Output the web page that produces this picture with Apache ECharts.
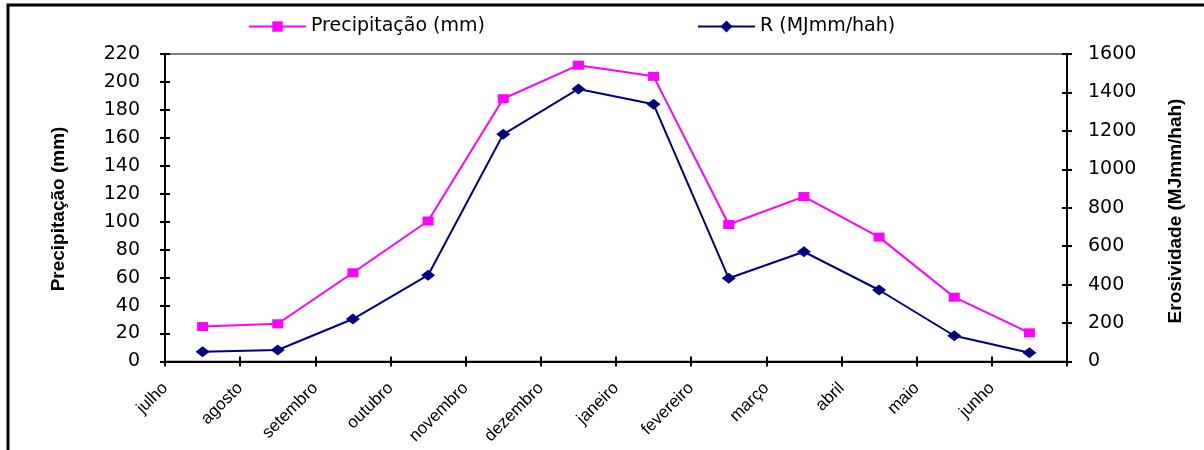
<!DOCTYPE html>
<html>
<head>
<meta charset="utf-8">
<script src="https://cdn.jsdelivr.net/npm/echarts@6/dist/echarts.min.js"></script>
<style>
  html, body { margin: 0; padding: 0; background: #fff; }
  #chart { width: 1204px; height: 450px; }
</style>
</head>
<body>
<div id="chart"></div>
<script>
// Monthly categories (hydrological year, July to June)
const months = ['julho', 'agosto', 'setembro', 'outubro', 'novembro', 'dezembro',
                'janeiro', 'fevereiro', 'março', 'abril', 'maio', 'junho'];
// Mean monthly rainfall (mm), left axis
const precipitacao = [25, 27, 63.5, 100.5, 188, 212, 204, 98, 118, 89, 46, 20.5];
// Rainfall erosivity R (MJ mm / ha h), right axis
const erosividade = [51, 60, 221, 449, 1182, 1418, 1338, 433, 571, 372, 134, 46];
// Axis settings
const leftTicks = { min: 0, max: 220, interval: 20 };
const rightTicks = { min: 0, max: 1600, interval: 200 };

const tickFont = { fontFamily: 'DejaVu Sans', fontSize: 19, color: '#000' };
const black = '#000';

const chart = echarts.init(document.getElementById('chart'));

const yBase = (t, pos) => ({
  type: 'value', position: pos, min: t.min, max: t.max, interval: t.interval,
  splitLine: { show: false }
});

const legendText = { fontFamily: 'DejaVu Sans', fontSize: 19, color: '#000' };

chart.setOption({
  animation: false,
  backgroundColor: '#fff',
  grid: {
    left: 165, right: 137, top: 54, bottom: 88.5,
    show: true, borderColor: '#808080', borderWidth: 2, backgroundColor: 'transparent'
  },
  legend: [
    {
      data: ['Precipitação (mm)'], left: 243, top: 12,
      itemWidth: 57, itemHeight: 13, itemGap: 8, textStyle: legendText
    },
    {
      data: ['R (MJmm/hah)'], left: 692, top: 12,
      itemWidth: 57, itemHeight: 15, itemGap: 8, textStyle: legendText
    }
  ],
  xAxis: [
    {
      // data axis: points sit at band centres
      type: 'category', data: months, boundaryGap: true, position: 'bottom',
      axisLine: { lineStyle: { color: black, width: 2 } },
      axisTick: { show: true, length: 5, lineStyle: { color: black, width: 2 } },
      axisLabel: { show: false }
    },
    {
      // label axis: month names sit on the band boundaries
      type: 'category', data: months.concat(['']), boundaryGap: false, position: 'bottom',
      axisLine: { show: false },
      axisTick: { show: true, inside: true, length: 5, lineStyle: { color: black, width: 2 } },
      axisLabel: {
        rotate: 45, margin: 24, interval: 0,
        fontFamily: 'Liberation Sans', fontSize: 17, color: '#000'
      }
    }
  ],
  yAxis: [
    Object.assign(yBase(leftTicks, 'left'), {
      axisLine: { show: true, lineStyle: { color: black, width: 2 } },
      axisTick: { show: true, length: 5, lineStyle: { color: black, width: 2 } },
      axisLabel: Object.assign({ margin: 25 }, tickFont)
    }),
    Object.assign(yBase(rightTicks, 'right'), {
      axisLine: { show: true, lineStyle: { color: black, width: 2 } },
      axisTick: { show: true, length: 5, lineStyle: { color: black, width: 2 } },
      axisLabel: Object.assign({ margin: 21, formatter: v => String(v) }, tickFont)
    }),
    Object.assign(yBase(leftTicks, 'left'), {
      axisLine: { show: false },
      axisTick: { show: true, inside: true, length: 5, lineStyle: { color: black, width: 2 } },
      axisLabel: { show: false }
    }),
    Object.assign(yBase(rightTicks, 'right'), {
      axisLine: { show: false },
      axisTick: { show: true, inside: true, length: 5, lineStyle: { color: black, width: 2 } },
      axisLabel: { show: false }
    })
  ],
  graphic: [
    {
      type: 'rect', silent: true, z: 100,
      shape: { x: 8, y: 5, width: 1400, height: 600 },
      style: { fill: 'none', stroke: '#000', lineWidth: 3 }
    },
    {
      type: 'text', x: 59, y: 209, rotation: Math.PI / 2,
      style: {
        text: 'Precipitação (mm)', fontFamily: 'Liberation Sans', fontWeight: 'bold',
        fontSize: 19, fill: '#000', align: 'center', verticalAlign: 'middle'
      }
    },
    {
      type: 'text', x: 1176, y: 211, rotation: Math.PI / 2,
      style: {
        text: 'Erosividade (MJmm/hah)', fontFamily: 'Liberation Sans', fontWeight: 'bold',
        fontSize: 19, fill: '#000', align: 'center', verticalAlign: 'middle'
      }
    }
  ],
  series: [
    {
      name: 'Precipitação (mm)', type: 'line', xAxisIndex: 0, yAxisIndex: 0,
      data: precipitacao,
      symbol: 'rect', symbolSize: [11, 9],
      lineStyle: { color: '#FF00FF', width: 2 },
      itemStyle: { color: '#FF00FF' }
    },
    {
      name: 'R (MJmm/hah)', type: 'line', xAxisIndex: 0, yAxisIndex: 1,
      data: erosividade,
      symbol: 'diamond', symbolSize: [14, 11],
      lineStyle: { color: '#000080', width: 2 },
      itemStyle: { color: '#000080' }
    }
  ]
});
</script>
</body>
</html>
